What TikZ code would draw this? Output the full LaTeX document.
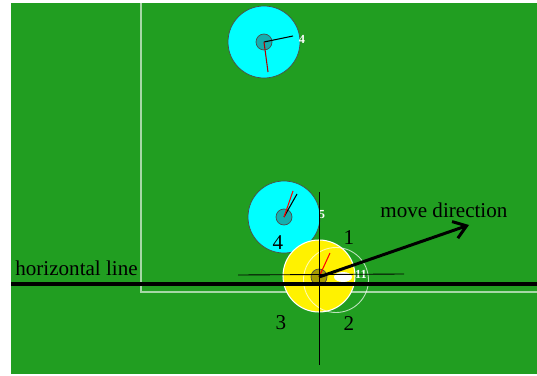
\documentclass[tikz,border=0pt]{standalone}
\usepackage{fontspec}
\setmainfont{Liberation Serif}
\usetikzlibrary{arrows.meta,shapes.geometric}
\definecolor{fieldgreen}{RGB}{33,158,33}
\definecolor{robotcyan}{RGB}{0,255,255}
\definecolor{hubteal}{RGB}{20,175,175}

\begin{document}
\begin{tikzpicture}[x=0.02cm, y=-0.02cm,
    robot/.style={circle, draw=black!70, fill=robotcyan, minimum size=1.44cm, inner sep=0pt},
    hub/.style={circle, draw=black!70, fill=hubteal, minimum size=0.32cm, inner sep=0pt},
    idlabel/.style={text=white, font=\fontsize{7}{7}\selectfont\bfseries, inner sep=0pt},
    zonelabel/.style={font=\fontsize{12}{12}\selectfont, inner sep=0pt},
    fieldline/.style={draw=white!60!fieldgreen, line width=0.8pt}]
  \useasboundingbox (0,0) rectangle (537,375);
  \fill[fieldgreen] (11,3) rectangle (537,374);
  % field lines
  \coordinate (f1) at (141,3);
  \coordinate (f2) at (141,292);
  \coordinate (f3) at (537,292);
  \draw[fieldline] (f1) -- (f2) -- (f3);
  % cyan robots
  \node[robot] (r4) at (264,42) {};
  \node[hub] (h4) at (264,42) {};
  \coordinate (d4) at (293,36);
  \coordinate (k4) at (268,72);
  \draw[black, line width=0.6pt] (h4.center) -- (d4);
  \draw[red!70!black, line width=0.6pt] (h4.center) -- (k4);
  \node[idlabel] (n4) at (302,39) {4};
  \node[robot] (r5) at (284,217) {};
  \node[hub] (h5) at (284,217) {};
  \coordinate (d5) at (297,194);
  \coordinate (k5) at (293,191);
  \draw[black, line width=0.6pt] (h5.center) -- (d5);
  \draw[red, line width=0.6pt] (h5.center) -- (k5);
  \node[idlabel] (n5) at (322,215) {5};
  % yellow robot
  \node[circle, draw=white, line width=0.6pt, fill=yellow, minimum size=1.44cm, inner sep=0pt] (ry) at (319,276) {};
  \node[circle, draw=black!70, fill=black, fill opacity=0.35, minimum size=0.32cm, inner sep=0pt] (hy) at (319,277) {};
  \coordinate (ky) at (330,253);
  \draw[red, line width=0.6pt] (hy.center) -- (ky);
  \node[circle, draw=white, draw opacity=0.7, line width=0.5pt, minimum size=1.3cm, inner sep=0pt] (reach) at (336,280) {};
  \node[ellipse, fill=white, minimum width=0.36cm, minimum height=0.2cm, inner sep=0pt] (ball) at (343,277) {};
  \node[idlabel] (n11) at (361,274) {11};
  % axes through the ball
  \coordinate (v1) at (319,192);
  \coordinate (v2) at (319,365);
  \coordinate (t1) at (238,275);
  \coordinate (t2) at (404,274);
  \draw[black, line width=0.5pt] (v1) -- (v2);
  \draw[black, line width=0.5pt] (t1) -- (t2);
  \coordinate (hl1) at (11,284);
  \coordinate (hl2) at (537,284);
  \draw[black, line width=2.2pt] (hl1) -- (hl2);
  \coordinate (tip) at (469,225);
  \draw[black, line width=1.7pt, -{Straight Barb[length=7pt, width=10pt]}] (hy.center) -- (tip);
  % labels
  \node[zonelabel, anchor=base west] (hlabel) at (15,275) {horizontal line};
  \node[zonelabel, anchor=base west] (mlabel) at (380,217) {move direction};
  \node[zonelabel] (q1) at (349,238) {1};
  \node[zonelabel] (q2) at (349,324) {2};
  \node[zonelabel] (q3) at (281,323) {3};
  \node[zonelabel] (q4) at (278,243) {4};
\end{tikzpicture}
\end{document}
